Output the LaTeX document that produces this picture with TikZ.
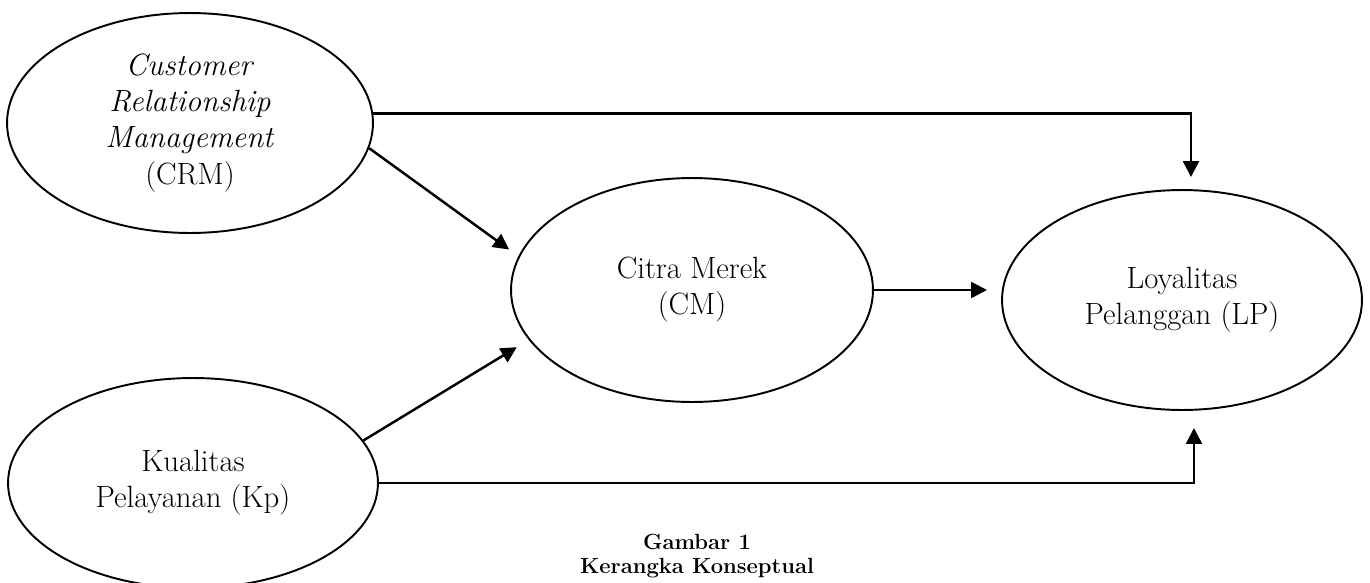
\documentclass[tikz,border=0pt]{standalone}
\usepackage{tikz}
\usetikzlibrary{shapes.geometric,arrows.meta,calc}

\begin{document}
\begin{tikzpicture}[x=0.02cm,y=-0.02cm]
	\tikzstyle{var} = [ellipse, draw, line width=1.1pt, align=center, inner sep=0pt, font=\fontsize{17.5}{20.5}\selectfont]
	\tikzstyle{link} = [-{Triangle[length=9pt,width=9pt]}, line width=1.4pt]
	\tikzstyle{caption} = [anchor=base, inner sep=0pt, font=\fontsize{12.5}{15}\selectfont\bfseries]
	\useasboundingbox (0,0) rectangle (1370,582);
	\node[var, minimum width=7.32cm, minimum height=4.4cm] (crm) at (190,123) {\textit{Customer}\\ \textit{Relationship}\\ \textit{Management}\\ (CRM)};
	\node[var, minimum width=7.24cm, minimum height=4.48cm] (cm) at (692,290) {Citra Merek\\ (CM)};
	\node[var, minimum width=7.2cm, minimum height=4.4cm] (lp) at (1182,300) {Loyalitas\\ Pelanggan (LP)};
	\node[var, minimum width=7.4cm, minimum height=4.2cm] (kp) at (193,483) {Kualitas\\ Pelayanan (Kp)};
	\coordinate (lptop) at (1191,177);
	\coordinate (lpbot) at (1194,428);
	\draw[link] (crm.3) -| (lptop);
	\draw[link] (kp.east) -| (lpbot);
	\draw[link, shorten >=6.5pt] (crm.-8) -- (cm.169);
	\draw[link, shorten >=8pt] (kp.14) -- (cm.197.7);
	\draw[link, shorten >=8pt] (cm.east) -- (cm.east -| lp.west);
	\node[caption] (cap1) at (697,549) {Gambar 1};
	\node[caption] (cap2) at (697,573) {Kerangka Konseptual};
\end{tikzpicture}
\end{document}
